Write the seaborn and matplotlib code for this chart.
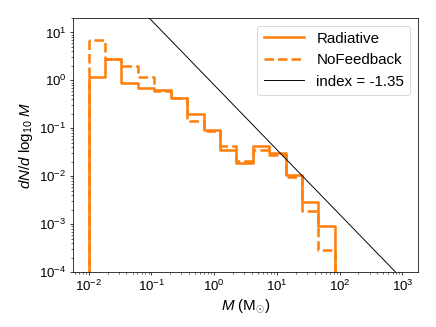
import numpy as np
import seaborn as sns
import matplotlib.pyplot as plt
from matplotlib.lines import Line2D

# log10 bin range of the mass function (15 log-spaced bins)
log_mass_lo = -2.0
log_mass_hi = 1.925
n_bins = 15

# dN/dlog10 M read per bin
radiative = [1.2, 2.8, 0.90, 0.69, 0.62, 0.43, 0.20, 0.09,
             0.035, 0.019, 0.042, 0.031, 0.0105, 0.0029, 0.00091]
nofeedback = [6.8, 2.8, 1.96, 1.17, 0.60, 0.43, 0.139, 0.087,
              0.042, 0.021, 0.036, 0.027, 0.0094, 0.0019, 0.00029]

# reference power law
imf_index = -1.35
imf_norm = 0.8
imf_mass = [1e-2, 1e3]

plt.rcParams['font.family'] = ['Liberation Sans', 'DejaVu Sans']
plt.rcParams['mathtext.fontset'] = 'custom'
plt.rcParams['mathtext.rm'] = 'Liberation Sans'
plt.rcParams['mathtext.it'] = 'Liberation Sans:italic'

orange = '#ff7f0e'
lw = 2.7

fig, ax = plt.subplots(figsize=(6.4, 4.8), dpi=68.125)
fig.subplots_adjust(left=0.1674, right=0.9587, bottom=0.1682, top=0.945)

edges = np.linspace(log_mass_lo, log_mass_hi, n_bins + 1)
centers = 10 ** (0.5 * (edges[:-1] + edges[1:]))

# outline-only step histograms (polygon so the ends drop to the axis)
for heights, ls in [(radiative, '-'), (nofeedback, '--')]:
    sns.histplot(x=centers, weights=heights, bins=n_bins,
                 binrange=(log_mass_lo, log_mass_hi), log_scale=(True, True),
                 element="step", fill=True, color=orange, facecolor='none',
                 linewidth=lw, linestyle=ls, ax=ax)

imf_mass = np.array(imf_mass)
sns.lineplot(x=imf_mass, y=imf_norm * imf_mass ** imf_index, color='k',
             linewidth=1, ax=ax)

ax.set_xscale('log')
ax.set_yscale('log')
ax.set_xlim(10 ** -2.25, 10 ** 3.25)
ax.set_ylim(1e-4, 20)
ax.set_xlabel(r"$M\ (\mathrm{M}_{\odot})$", fontsize=16)
ax.set_ylabel(r"$dN/d\ \log_{10}\,M$", fontsize=16)
ax.tick_params(labelsize=14)

handles = [Line2D([], [], color=orange, lw=lw),
           Line2D([], [], color=orange, lw=lw, ls='--'),
           Line2D([], [], color='k', lw=1)]
ax.legend(handles, ["Radiative", "NoFeedback", f"index = {imf_index}"],
          loc='upper right', fontsize=16, handlelength=2.7)

fig.savefig("out.png", dpi=68.125)
